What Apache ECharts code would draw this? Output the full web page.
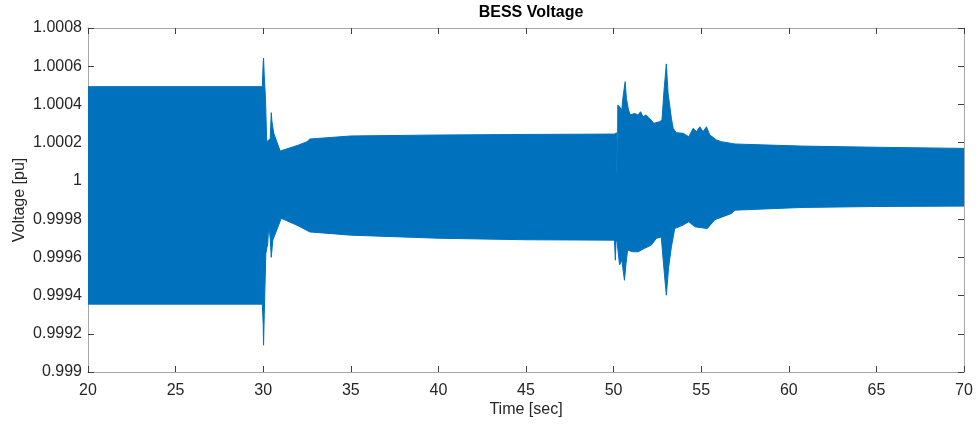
<!DOCTYPE html>
<html>
<head>
<meta charset="utf-8">
<script src="https://cdn.jsdelivr.net/npm/echarts@6/dist/echarts.min.js"></script>
<style>
html,body{margin:0;padding:0;background:#fff;}
#chart{width:979px;height:427px;}
</style>
</head>
<body>
<div id="chart"></div>
<script>
// Upper envelope of the BESS voltage oscillation (time [sec], voltage [pu])
var upperTime = [20, 29.95, 30.0, 30.02, 30.06, 30.13, 30.2, 30.4, 30.46, 30.5, 30.6, 30.97, 31.5, 32.0, 32.5, 32.66, 35, 40, 45, 50.05, 50.16, 50.18, 50.22, 50.24, 50.34, 50.47, 50.54, 50.66, 50.73, 50.85, 50.96, 51.19, 51.39, 51.54, 51.68, 51.86, 52.05, 52.3, 52.63, 52.76, 52.88, 53.01, 53.11, 53.3, 53.4, 53.58, 53.97, 54.29, 54.54, 54.73, 54.92, 55.11, 55.3, 55.49, 55.88, 56.16, 56.74, 56.93, 60.75, 65, 70];
var upperV = [1.000493, 1.000493, 1.00062, 1.000642, 1.00055, 1.000432, 1.000205, 1.00022, 1.000357, 1.00031, 1.00025, 1.000156, 1.000172, 1.000187, 1.000205, 1.000219, 1.000235, 1.00024, 1.000243, 1.000245, 1.000252, 1.00005, 1.00005, 1.000397, 1.000388, 1.000371, 1.00044, 1.000519, 1.000432, 1.000371, 1.000345, 1.000353, 1.000345, 1.000362, 1.000336, 1.000345, 1.000327, 1.000301, 1.00031, 1.000318, 1.000475, 1.000612, 1.000458, 1.000327, 1.000275, 1.000252, 1.000249, 1.000231, 1.000275, 1.000258, 1.000283, 1.000258, 1.000283, 1.00024, 1.000214, 1.000205, 1.000196, 1.000193, 1.000182, 1.000176, 1.00017];
// Lower envelope
var lowerTime = [20, 29.95, 30.0, 30.02, 30.06, 30.15, 30.26, 30.32, 30.4, 30.46, 30.55, 31.03, 32.0, 32.66, 35, 40, 45, 50.05, 50.1, 50.14, 50.2, 50.34, 50.47, 50.62, 50.71, 50.8, 51.09, 51.39, 51.77, 52.15, 52.44, 52.72, 52.88, 53.01, 53.14, 53.3, 53.49, 53.97, 54.29, 54.64, 55.0, 55.35, 55.78, 56.74, 56.93, 60.75, 65, 70];
var lowerV = [0.999355, 0.999355, 0.99925, 0.99914, 0.9993, 0.99962, 0.999674, 0.999769, 0.9997, 0.9996, 0.99969, 0.999804, 0.999765, 0.999733, 0.999716, 0.9997, 0.999692, 0.99969, 0.999585, 0.99969, 0.99968, 0.99956, 0.999585, 0.99948, 0.999568, 0.999638, 0.999629, 0.999629, 0.999647, 0.999664, 0.999699, 0.999707, 0.999534, 0.999402, 0.999548, 0.999655, 0.999751, 0.999769, 0.999786, 0.99976, 0.999755, 0.999751, 0.999797, 0.99983, 0.999847, 0.999861, 0.999866, 0.999868];

var xTicks = [20, 25, 30, 35, 40, 45, 50, 55, 60, 65, 70];
var yTicks = [0.999, 0.9992, 0.9994, 0.9996, 0.9998, 1, 1.0002, 1.0004, 1.0006, 1.0008];

var chart = echarts.init(document.getElementById('chart'), null, {renderer: 'canvas'});
var FONT = 'Liberation Sans, Arial, Helvetica, sans-serif';
var TXT = '#262626';
var LINE = '#a8a8a8';

function yFmt(v) { return String(parseFloat(v.toFixed(4))); }

var axisCommon = {
  axisLine: {show: true, onZero: false, lineStyle: {color: LINE, width: 1}},
  axisTick: {show: true, inside: true, length: 6, lineStyle: {color: '#404040', width: 1}},
  splitLine: {show: false}
};

var option = {
  animation: false,
  backgroundColor: '#ffffff',
  title: {
    text: 'BESS Voltage',
    left: 526, top: 0, textAlign: 'center',
    textStyle: {fontFamily: FONT, fontSize: 16, fontWeight: 'bold', color: '#000'}
  },
  grid: {left: 88, right: 15, top: 28, bottom: 55, containLabel: false},
  xAxis: [
    Object.assign({}, axisCommon, {
      type: 'value', min: xTicks[0], max: xTicks[xTicks.length - 1], interval: 5,
      position: 'bottom',
      name: 'Time [sec]', nameLocation: 'middle', nameGap: 30, nameMoveOverlap: false,
      nameTextStyle: {fontFamily: FONT, fontSize: 16, color: TXT},
      axisLabel: {fontFamily: FONT, fontSize: 16, color: TXT, margin: 11}
    }),
    Object.assign({}, axisCommon, {
      type: 'value', min: xTicks[0], max: xTicks[xTicks.length - 1], interval: 5,
      position: 'top', axisLabel: {show: false}
    })
  ],
  yAxis: [
    Object.assign({}, axisCommon, {
      type: 'value', min: yTicks[0], max: yTicks[yTicks.length - 1], interval: 0.0002,
      position: 'left',
      name: 'Voltage [pu]', nameLocation: 'middle', nameGap: 60, nameRotate: 90, nameMoveOverlap: false,
      nameTextStyle: {fontFamily: FONT, fontSize: 16, color: TXT},
      axisLabel: {fontFamily: FONT, fontSize: 16, color: TXT, margin: 6, formatter: yFmt}
    }),
    Object.assign({}, axisCommon, {
      type: 'value', min: yTicks[0], max: yTicks[yTicks.length - 1], interval: 0.0002,
      position: 'right', axisLabel: {show: false}
    })
  ],
  series: [{
    type: 'custom',
    xAxisIndex: 0, yAxisIndex: 0,
    clip: true,
    data: [[upperTime[0], upperV[0]]],
    renderItem: function (params, api) {
      var pts = [];
      for (var i = 0; i < upperTime.length; i++) pts.push(api.coord([upperTime[i], upperV[i]]));
      for (var j = lowerTime.length - 1; j >= 0; j--) pts.push(api.coord([lowerTime[j], lowerV[j]]));
      return {
        type: 'polygon',
        shape: {points: pts},
        style: {fill: '#0072BD', stroke: '#0072BD', lineWidth: 1}
      };
    }
  }]
};
chart.setOption(option);
</script>
</body>
</html>
